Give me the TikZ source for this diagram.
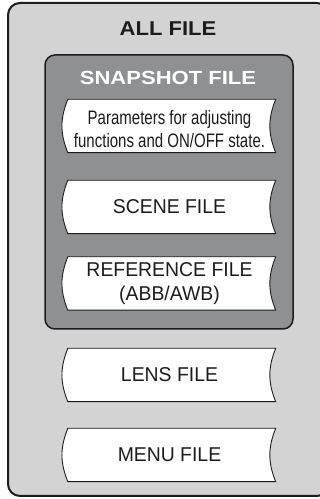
\documentclass[tikz,border=0pt]{standalone}
\usepackage{fontspec}
\setmainfont{Liberation Sans}
\newfontfamily\hdfont[FakeStretch=1.1]{Liberation Sans}
\newfontfamily\snfont[FakeStretch=1.16]{Liberation Sans}
\newfontfamily\rgfont[FakeStretch=0.97]{Liberation Sans}
\newfontfamily\smfont[FakeStretch=0.77]{Liberation Sans}
\usetikzlibrary{backgrounds}
\definecolor{allgray}{RGB}{211,211,212}
\definecolor{snapgray}{RGB}{143,144,146}
\definecolor{ink}{RGB}{30,27,28}
\tikzset{
  ob/.style={draw=ink,line width=2pt,fill=allgray,rounded corners=12pt},
  ib/.style={draw=ink,line width=1.5pt,fill=snapgray,rounded corners=10pt},
  hd/.style={inner sep=0pt,font=\hdfont\bfseries\fontsize{20}{24}\selectfont},
  fl/.style={minimum width=212pt,minimum height=53pt,inner sep=0pt,align=center,
    text=ink,font=\rgfont\fontsize{20}{23.5}\selectfont},
  fo/.style={draw=ink,line width=0.9pt,fill=white},
}

\begin{document}
\begin{tikzpicture}[x=1pt,y=1pt]
  \useasboundingbox (0,0) rectangle (320,499);

  \node[hd,text=ink] (allt) at (168,470) {ALL FILE};
  \node[hd,text=white,font=\snfont\bfseries\fontsize{19}{23}\selectfont] (snapt) at (168,421.5) {SNAPSHOT FILE};

  \node[fl,text height=43pt,font=\smfont\fontsize{19.5}{23}\selectfont] (param) at (169.5,373) {Parameters for adjusting\\functions and ON/OFF state.};
  \node[fl] (scene) at (169.5,292) {SCENE FILE};
  \node[fl] (ref) at (169.5,215.5) {REFERENCE FILE\\(ABB/AWB)};
  \node[fl] (lens) at (169.5,124) {LENS FILE};
  \node[fl] (menu) at (169.5,44) {MENU FILE};

  \begin{scope}[on background layer]
    \clip (0,0) rectangle (320,499);
    \draw[ob] (8,3) rectangle (329,496);
    \draw[ib] (45,170) rectangle (293,444);
    \foreach \f in {param,scene,ref,lens,menu}
      \draw[fo] ([xshift=4.5pt]\f.north west) -- (\f.north east)
        to[bend right=22] (\f.south east) -- ([xshift=4.5pt]\f.south west)
        to[bend left=22] ([xshift=4.5pt]\f.north west) -- cycle;
  \end{scope}
\end{tikzpicture}
\end{document}
